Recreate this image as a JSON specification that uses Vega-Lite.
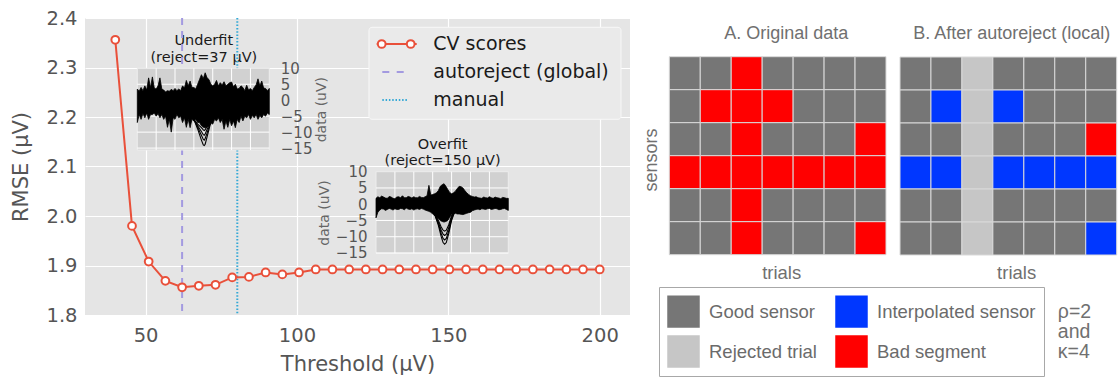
{
  "$schema": "https://vega.github.io/schema/vega-lite/v6.json",
  "width": 545,
  "height": 297,
  "autosize": {"type": "none"},
  "padding": {"left": 85, "top": 18, "right": 490, "bottom": 63},
  "background": "#ffffff",
  "config": {
    "font": "DejaVu Sans",
    "view": {"fill": "#E5E5E5", "stroke": null},
    "axis": {"domain": false, "ticks": false, "grid": false, "labelColor": "#555555", "titleColor": "#555555", "titleFontWeight": "normal"}
  },
  "datasets": {
    "cvScores": [
      {"threshold": 40.0, "rmse": 2.356, "series": "CV scores"},
      {"threshold": 45.52, "rmse": 1.98, "series": "CV scores"},
      {"threshold": 51.03, "rmse": 1.908, "series": "CV scores"},
      {"threshold": 56.55, "rmse": 1.869, "series": "CV scores"},
      {"threshold": 62.07, "rmse": 1.856, "series": "CV scores"},
      {"threshold": 67.59, "rmse": 1.859, "series": "CV scores"},
      {"threshold": 73.1, "rmse": 1.861, "series": "CV scores"},
      {"threshold": 78.62, "rmse": 1.876, "series": "CV scores"},
      {"threshold": 84.14, "rmse": 1.877, "series": "CV scores"},
      {"threshold": 89.66, "rmse": 1.886, "series": "CV scores"},
      {"threshold": 95.17, "rmse": 1.882, "series": "CV scores"},
      {"threshold": 100.69, "rmse": 1.886, "series": "CV scores"},
      {"threshold": 106.21, "rmse": 1.892, "series": "CV scores"},
      {"threshold": 111.72, "rmse": 1.892, "series": "CV scores"},
      {"threshold": 117.24, "rmse": 1.892, "series": "CV scores"},
      {"threshold": 122.76, "rmse": 1.892, "series": "CV scores"},
      {"threshold": 128.28, "rmse": 1.892, "series": "CV scores"},
      {"threshold": 133.79, "rmse": 1.892, "series": "CV scores"},
      {"threshold": 139.31, "rmse": 1.892, "series": "CV scores"},
      {"threshold": 144.83, "rmse": 1.892, "series": "CV scores"},
      {"threshold": 150.34, "rmse": 1.892, "series": "CV scores"},
      {"threshold": 155.86, "rmse": 1.892, "series": "CV scores"},
      {"threshold": 161.38, "rmse": 1.892, "series": "CV scores"},
      {"threshold": 166.9, "rmse": 1.892, "series": "CV scores"},
      {"threshold": 172.41, "rmse": 1.892, "series": "CV scores"},
      {"threshold": 177.93, "rmse": 1.892, "series": "CV scores"},
      {"threshold": 183.45, "rmse": 1.892, "series": "CV scores"},
      {"threshold": 188.97, "rmse": 1.892, "series": "CV scores"},
      {"threshold": 194.48, "rmse": 1.892, "series": "CV scores"},
      {"threshold": 200.0, "rmse": 1.892, "series": "CV scores"}
    ],
    "references": [
      {"threshold": 62.07, "series": "autoreject (global)"},
      {"threshold": 80.3, "series": "manual"}
    ],
    "legendEntries": [
      {"series": "CV scores"},
      {"series": "autoreject (global)"},
      {"series": "manual"}
    ],
    "legendMarkers": [
      {"series": "CV scores", "end": "left"},
      {"series": "CV scores", "end": "right"}
    ],
    "timeGrid": [{"t": -100}, {"t": 0}, {"t": 100}, {"t": 200}, {"t": 300}, {"t": 400}],
    "valueGrid": [{"v": 5}, {"v": 0}, {"v": -5}, {"v": -10}, {"v": -15}],
    "underfitBand": [
      {"t": -200, "lo": -7.0, "hi": 3.5}, {"t": -190, "lo": -4.5, "hi": 2.8}, {"t": -180, "lo": -6.0, "hi": 4.0}, {"t": -170, "lo": -4.2, "hi": 3.0},
      {"t": -160, "lo": -5.5, "hi": 4.5}, {"t": -150, "lo": -4.0, "hi": 3.2}, {"t": -140, "lo": -6.0, "hi": 7.0}, {"t": -130, "lo": -4.5, "hi": 4.0},
      {"t": -120, "lo": -4.5, "hi": 7.3}, {"t": -110, "lo": -4.0, "hi": 3.8}, {"t": -100, "lo": -5.0, "hi": 3.5}, {"t": -90, "lo": -4.2, "hi": 4.5},
      {"t": -80, "lo": -5.5, "hi": 7.0}, {"t": -70, "lo": -4.5, "hi": 3.5}, {"t": -60, "lo": -6.0, "hi": 3.2}, {"t": -50, "lo": -5.0, "hi": 2.6},
      {"t": -40, "lo": -8.5, "hi": 3.0}, {"t": -30, "lo": -6.0, "hi": 2.8}, {"t": -20, "lo": -10.0, "hi": 3.4}, {"t": -10, "lo": -5.5, "hi": 3.0},
      {"t": 0, "lo": -6.0, "hi": 3.7}, {"t": 10, "lo": -4.5, "hi": 3.0}, {"t": 20, "lo": -5.5, "hi": 3.5}, {"t": 30, "lo": -5.0, "hi": 3.0},
      {"t": 40, "lo": -7.0, "hi": 4.5}, {"t": 50, "lo": -5.5, "hi": 3.8}, {"t": 60, "lo": -8.5, "hi": 6.2}, {"t": 70, "lo": -6.0, "hi": 4.5},
      {"t": 80, "lo": -8.6, "hi": 6.0}, {"t": 90, "lo": -6.0, "hi": 4.0}, {"t": 100, "lo": -6.5, "hi": 4.0}, {"t": 110, "lo": -6.0, "hi": 3.5},
      {"t": 120, "lo": -7.0, "hi": 5.0}, {"t": 130, "lo": -7.0, "hi": 6.5}, {"t": 140, "lo": -8.0, "hi": 8.0}, {"t": 150, "lo": -8.5, "hi": 6.8},
      {"t": 160, "lo": -8.6, "hi": 8.6}, {"t": 170, "lo": -8.3, "hi": 7.0}, {"t": 180, "lo": -8.0, "hi": 6.5}, {"t": 190, "lo": -7.0, "hi": 5.0},
      {"t": 200, "lo": -7.5, "hi": 4.5}, {"t": 210, "lo": -6.0, "hi": 5.0}, {"t": 220, "lo": -6.5, "hi": 6.2}, {"t": 230, "lo": -5.5, "hi": 4.5},
      {"t": 240, "lo": -7.0, "hi": 5.5}, {"t": 250, "lo": -6.0, "hi": 4.8}, {"t": 260, "lo": -9.1, "hi": 5.8}, {"t": 270, "lo": -6.5, "hi": 4.5},
      {"t": 280, "lo": -8.5, "hi": 5.0}, {"t": 290, "lo": -6.0, "hi": 5.5}, {"t": 300, "lo": -8.0, "hi": 5.7}, {"t": 310, "lo": -6.5, "hi": 4.2},
      {"t": 320, "lo": -8.6, "hi": 5.0}, {"t": 330, "lo": -6.0, "hi": 3.5}, {"t": 340, "lo": -7.0, "hi": 3.7}, {"t": 350, "lo": -5.0, "hi": 4.5},
      {"t": 360, "lo": -6.5, "hi": 4.0}, {"t": 370, "lo": -5.0, "hi": 3.0}, {"t": 380, "lo": -5.5, "hi": 4.7}, {"t": 390, "lo": -4.5, "hi": 3.2},
      {"t": 400, "lo": -6.0, "hi": 3.7}, {"t": 410, "lo": -4.8, "hi": 3.0}, {"t": 420, "lo": -5.5, "hi": 4.0}, {"t": 430, "lo": -4.5, "hi": 4.8},
      {"t": 440, "lo": -6.0, "hi": 6.7}, {"t": 450, "lo": -4.8, "hi": 4.5}, {"t": 460, "lo": -5.5, "hi": 6.0}, {"t": 470, "lo": -4.5, "hi": 3.8},
      {"t": 480, "lo": -5.0, "hi": 3.7}, {"t": 490, "lo": -4.0, "hi": 3.0}, {"t": 500, "lo": -4.5, "hi": 3.7}
    ],
    "underfitDip": [
      {"trace": 1, "t": 100, "v": -6}, {"trace": 1, "t": 120, "v": -9}, {"trace": 1, "t": 140, "v": -12.5}, {"trace": 1, "t": 150, "v": -14}, {"trace": 1, "t": 155, "v": -14.2}, {"trace": 1, "t": 160, "v": -13.8}, {"trace": 1, "t": 170, "v": -11.5}, {"trace": 1, "t": 185, "v": -8}, {"trace": 1, "t": 200, "v": -6},
      {"trace": 2, "t": 100, "v": -6}, {"trace": 2, "t": 120, "v": -8.5}, {"trace": 2, "t": 140, "v": -11}, {"trace": 2, "t": 150, "v": -12.3}, {"trace": 2, "t": 155, "v": -12.5}, {"trace": 2, "t": 160, "v": -12}, {"trace": 2, "t": 170, "v": -10.3}, {"trace": 2, "t": 185, "v": -7.5}, {"trace": 2, "t": 200, "v": -6},
      {"trace": 3, "t": 100, "v": -6}, {"trace": 3, "t": 120, "v": -8}, {"trace": 3, "t": 140, "v": -9.8}, {"trace": 3, "t": 150, "v": -10.8}, {"trace": 3, "t": 155, "v": -11}, {"trace": 3, "t": 160, "v": -10.6}, {"trace": 3, "t": 170, "v": -9.2}, {"trace": 3, "t": 185, "v": -7}, {"trace": 3, "t": 200, "v": -6},
      {"trace": 4, "t": 100, "v": -6}, {"trace": 4, "t": 120, "v": -7.5}, {"trace": 4, "t": 140, "v": -8.6}, {"trace": 4, "t": 150, "v": -9.3}, {"trace": 4, "t": 155, "v": -9.5}, {"trace": 4, "t": 160, "v": -9.2}, {"trace": 4, "t": 170, "v": -8.2}, {"trace": 4, "t": 185, "v": -6.5}, {"trace": 4, "t": 200, "v": -6}
    ],
    "overfitBand": [
      {"t": -200, "lo": -4.2, "hi": 1.8}, {"t": -190, "lo": -2.5, "hi": 2.3}, {"t": -180, "lo": -1.8, "hi": 2.0}, {"t": -170, "lo": -1.4, "hi": 2.5},
      {"t": -160, "lo": -1.5, "hi": 2.2}, {"t": -150, "lo": -1.9, "hi": 1.9}, {"t": -140, "lo": -1.6, "hi": 1.8}, {"t": -130, "lo": -1.3, "hi": 2.4},
      {"t": -120, "lo": -1.5, "hi": 2.2}, {"t": -110, "lo": -1.8, "hi": 1.8}, {"t": -100, "lo": -1.4, "hi": 1.7}, {"t": -90, "lo": -1.6, "hi": 2.2},
      {"t": -80, "lo": -1.6, "hi": 2.3}, {"t": -70, "lo": -1.3, "hi": 2.0}, {"t": -60, "lo": -1.4, "hi": 2.6}, {"t": -50, "lo": -1.7, "hi": 2.0},
      {"t": -40, "lo": -1.2, "hi": 2.0}, {"t": -30, "lo": -1.5, "hi": 2.4}, {"t": -20, "lo": -1.6, "hi": 2.2}, {"t": -10, "lo": -1.4, "hi": 1.9},
      {"t": 0, "lo": -1.8, "hi": 2.3}, {"t": 10, "lo": -1.5, "hi": 2.0}, {"t": 20, "lo": -1.4, "hi": 2.0}, {"t": 30, "lo": -1.6, "hi": 2.4},
      {"t": 40, "lo": -1.3, "hi": 2.1}, {"t": 50, "lo": -1.5, "hi": 2.0}, {"t": 60, "lo": -1.8, "hi": 2.3}, {"t": 70, "lo": -2.0, "hi": 2.6},
      {"t": 80, "lo": -2.2, "hi": 5.8}, {"t": 90, "lo": -2.5, "hi": 2.8}, {"t": 100, "lo": -3.0, "hi": 3.0}, {"t": 110, "lo": -3.5, "hi": 3.2},
      {"t": 120, "lo": -4.0, "hi": 3.5}, {"t": 130, "lo": -4.5, "hi": 4.2}, {"t": 140, "lo": -5.0, "hi": 5.5}, {"t": 150, "lo": -5.3, "hi": 6.0},
      {"t": 160, "lo": -5.5, "hi": 6.3}, {"t": 170, "lo": -5.3, "hi": 5.5}, {"t": 180, "lo": -5.0, "hi": 4.5}, {"t": 190, "lo": -4.0, "hi": 3.6},
      {"t": 200, "lo": -3.2, "hi": 3.2}, {"t": 210, "lo": -3.0, "hi": 3.5}, {"t": 220, "lo": -2.8, "hi": 4.0}, {"t": 230, "lo": -3.0, "hi": 4.8},
      {"t": 240, "lo": -3.0, "hi": 5.5}, {"t": 250, "lo": -3.1, "hi": 5.4}, {"t": 260, "lo": -3.2, "hi": 5.0}, {"t": 270, "lo": -3.0, "hi": 4.2},
      {"t": 280, "lo": -2.8, "hi": 3.5}, {"t": 290, "lo": -2.6, "hi": 3.0}, {"t": 300, "lo": -2.5, "hi": 2.6}, {"t": 310, "lo": -2.0, "hi": 2.4},
      {"t": 320, "lo": -1.8, "hi": 2.2}, {"t": 330, "lo": -1.6, "hi": 2.3}, {"t": 340, "lo": -1.5, "hi": 2.0}, {"t": 350, "lo": -1.7, "hi": 1.9},
      {"t": 360, "lo": -1.4, "hi": 1.8}, {"t": 370, "lo": -1.5, "hi": 2.2}, {"t": 380, "lo": -1.6, "hi": 2.0}, {"t": 390, "lo": -1.4, "hi": 1.9},
      {"t": 400, "lo": -1.3, "hi": 2.3}, {"t": 410, "lo": -1.6, "hi": 2.0}, {"t": 420, "lo": -1.5, "hi": 1.8}, {"t": 430, "lo": -1.3, "hi": 2.2},
      {"t": 440, "lo": -1.4, "hi": 2.0}, {"t": 450, "lo": -1.7, "hi": 1.9}, {"t": 460, "lo": -1.6, "hi": 1.7}, {"t": 470, "lo": -1.4, "hi": 2.1},
      {"t": 480, "lo": -1.3, "hi": 2.0}, {"t": 490, "lo": -1.6, "hi": 1.8}, {"t": 500, "lo": -1.9, "hi": 1.8}
    ],
    "overfitDip": [
      {"trace": 1, "t": 110, "v": -3}, {"trace": 1, "t": 130, "v": -6.5}, {"trace": 1, "t": 145, "v": -10}, {"trace": 1, "t": 155, "v": -11.8}, {"trace": 1, "t": 163, "v": -12.3}, {"trace": 1, "t": 172, "v": -11.8}, {"trace": 1, "t": 185, "v": -9}, {"trace": 1, "t": 200, "v": -5}, {"trace": 1, "t": 215, "v": -2.5},
      {"trace": 2, "t": 110, "v": -3}, {"trace": 2, "t": 130, "v": -6}, {"trace": 2, "t": 145, "v": -9}, {"trace": 2, "t": 155, "v": -10.5}, {"trace": 2, "t": 163, "v": -11}, {"trace": 2, "t": 172, "v": -10.5}, {"trace": 2, "t": 185, "v": -8.2}, {"trace": 2, "t": 200, "v": -4.5}, {"trace": 2, "t": 215, "v": -2.5},
      {"trace": 3, "t": 110, "v": -3}, {"trace": 3, "t": 130, "v": -5.5}, {"trace": 3, "t": 145, "v": -8}, {"trace": 3, "t": 155, "v": -9.2}, {"trace": 3, "t": 163, "v": -9.6}, {"trace": 3, "t": 172, "v": -9.2}, {"trace": 3, "t": 185, "v": -7.2}, {"trace": 3, "t": 200, "v": -4}, {"trace": 3, "t": 215, "v": -2.5},
      {"trace": 4, "t": 110, "v": -3}, {"trace": 4, "t": 130, "v": -5}, {"trace": 4, "t": 145, "v": -7}, {"trace": 4, "t": 155, "v": -8}, {"trace": 4, "t": 163, "v": -8.3}, {"trace": 4, "t": 172, "v": -8}, {"trace": 4, "t": 185, "v": -6.3}, {"trace": 4, "t": 200, "v": -3.5}, {"trace": 4, "t": 215, "v": -2.5}
    ],
    "cells": [
      {"panel": "A", "sensor": 1, "trial": 1, "status": "Good sensor"}, {"panel": "A", "sensor": 1, "trial": 2, "status": "Good sensor"}, {"panel": "A", "sensor": 1, "trial": 3, "status": "Bad segment"}, {"panel": "A", "sensor": 1, "trial": 4, "status": "Good sensor"}, {"panel": "A", "sensor": 1, "trial": 5, "status": "Good sensor"}, {"panel": "A", "sensor": 1, "trial": 6, "status": "Good sensor"}, {"panel": "A", "sensor": 1, "trial": 7, "status": "Good sensor"},
      {"panel": "A", "sensor": 2, "trial": 1, "status": "Good sensor"}, {"panel": "A", "sensor": 2, "trial": 2, "status": "Bad segment"}, {"panel": "A", "sensor": 2, "trial": 3, "status": "Bad segment"}, {"panel": "A", "sensor": 2, "trial": 4, "status": "Bad segment"}, {"panel": "A", "sensor": 2, "trial": 5, "status": "Good sensor"}, {"panel": "A", "sensor": 2, "trial": 6, "status": "Good sensor"}, {"panel": "A", "sensor": 2, "trial": 7, "status": "Good sensor"},
      {"panel": "A", "sensor": 3, "trial": 1, "status": "Good sensor"}, {"panel": "A", "sensor": 3, "trial": 2, "status": "Good sensor"}, {"panel": "A", "sensor": 3, "trial": 3, "status": "Bad segment"}, {"panel": "A", "sensor": 3, "trial": 4, "status": "Good sensor"}, {"panel": "A", "sensor": 3, "trial": 5, "status": "Good sensor"}, {"panel": "A", "sensor": 3, "trial": 6, "status": "Good sensor"}, {"panel": "A", "sensor": 3, "trial": 7, "status": "Bad segment"},
      {"panel": "A", "sensor": 4, "trial": 1, "status": "Bad segment"}, {"panel": "A", "sensor": 4, "trial": 2, "status": "Bad segment"}, {"panel": "A", "sensor": 4, "trial": 3, "status": "Bad segment"}, {"panel": "A", "sensor": 4, "trial": 4, "status": "Bad segment"}, {"panel": "A", "sensor": 4, "trial": 5, "status": "Bad segment"}, {"panel": "A", "sensor": 4, "trial": 6, "status": "Bad segment"}, {"panel": "A", "sensor": 4, "trial": 7, "status": "Bad segment"},
      {"panel": "A", "sensor": 5, "trial": 1, "status": "Good sensor"}, {"panel": "A", "sensor": 5, "trial": 2, "status": "Good sensor"}, {"panel": "A", "sensor": 5, "trial": 3, "status": "Bad segment"}, {"panel": "A", "sensor": 5, "trial": 4, "status": "Good sensor"}, {"panel": "A", "sensor": 5, "trial": 5, "status": "Good sensor"}, {"panel": "A", "sensor": 5, "trial": 6, "status": "Good sensor"}, {"panel": "A", "sensor": 5, "trial": 7, "status": "Good sensor"},
      {"panel": "A", "sensor": 6, "trial": 1, "status": "Good sensor"}, {"panel": "A", "sensor": 6, "trial": 2, "status": "Good sensor"}, {"panel": "A", "sensor": 6, "trial": 3, "status": "Bad segment"}, {"panel": "A", "sensor": 6, "trial": 4, "status": "Good sensor"}, {"panel": "A", "sensor": 6, "trial": 5, "status": "Good sensor"}, {"panel": "A", "sensor": 6, "trial": 6, "status": "Good sensor"}, {"panel": "A", "sensor": 6, "trial": 7, "status": "Bad segment"},
      {"panel": "B", "sensor": 1, "trial": 1, "status": "Good sensor"}, {"panel": "B", "sensor": 1, "trial": 2, "status": "Good sensor"}, {"panel": "B", "sensor": 1, "trial": 3, "status": "Rejected trial"}, {"panel": "B", "sensor": 1, "trial": 4, "status": "Good sensor"}, {"panel": "B", "sensor": 1, "trial": 5, "status": "Good sensor"}, {"panel": "B", "sensor": 1, "trial": 6, "status": "Good sensor"}, {"panel": "B", "sensor": 1, "trial": 7, "status": "Good sensor"},
      {"panel": "B", "sensor": 2, "trial": 1, "status": "Good sensor"}, {"panel": "B", "sensor": 2, "trial": 2, "status": "Interpolated sensor"}, {"panel": "B", "sensor": 2, "trial": 3, "status": "Rejected trial"}, {"panel": "B", "sensor": 2, "trial": 4, "status": "Interpolated sensor"}, {"panel": "B", "sensor": 2, "trial": 5, "status": "Good sensor"}, {"panel": "B", "sensor": 2, "trial": 6, "status": "Good sensor"}, {"panel": "B", "sensor": 2, "trial": 7, "status": "Good sensor"},
      {"panel": "B", "sensor": 3, "trial": 1, "status": "Good sensor"}, {"panel": "B", "sensor": 3, "trial": 2, "status": "Good sensor"}, {"panel": "B", "sensor": 3, "trial": 3, "status": "Rejected trial"}, {"panel": "B", "sensor": 3, "trial": 4, "status": "Good sensor"}, {"panel": "B", "sensor": 3, "trial": 5, "status": "Good sensor"}, {"panel": "B", "sensor": 3, "trial": 6, "status": "Good sensor"}, {"panel": "B", "sensor": 3, "trial": 7, "status": "Bad segment"},
      {"panel": "B", "sensor": 4, "trial": 1, "status": "Interpolated sensor"}, {"panel": "B", "sensor": 4, "trial": 2, "status": "Interpolated sensor"}, {"panel": "B", "sensor": 4, "trial": 3, "status": "Rejected trial"}, {"panel": "B", "sensor": 4, "trial": 4, "status": "Interpolated sensor"}, {"panel": "B", "sensor": 4, "trial": 5, "status": "Interpolated sensor"}, {"panel": "B", "sensor": 4, "trial": 6, "status": "Interpolated sensor"}, {"panel": "B", "sensor": 4, "trial": 7, "status": "Interpolated sensor"},
      {"panel": "B", "sensor": 5, "trial": 1, "status": "Good sensor"}, {"panel": "B", "sensor": 5, "trial": 2, "status": "Good sensor"}, {"panel": "B", "sensor": 5, "trial": 3, "status": "Rejected trial"}, {"panel": "B", "sensor": 5, "trial": 4, "status": "Good sensor"}, {"panel": "B", "sensor": 5, "trial": 5, "status": "Good sensor"}, {"panel": "B", "sensor": 5, "trial": 6, "status": "Good sensor"}, {"panel": "B", "sensor": 5, "trial": 7, "status": "Good sensor"},
      {"panel": "B", "sensor": 6, "trial": 1, "status": "Good sensor"}, {"panel": "B", "sensor": 6, "trial": 2, "status": "Good sensor"}, {"panel": "B", "sensor": 6, "trial": 3, "status": "Rejected trial"}, {"panel": "B", "sensor": 6, "trial": 4, "status": "Good sensor"}, {"panel": "B", "sensor": 6, "trial": 5, "status": "Good sensor"}, {"panel": "B", "sensor": 6, "trial": 6, "status": "Good sensor"}, {"panel": "B", "sensor": 6, "trial": 7, "status": "Interpolated sensor"}
    ]
  },
  "resolve": {"scale": {"x": "independent", "y": "independent"}},
  "layer": [
    {
      "data": {"name": "references"},
      "mark": {"type": "rule", "strokeWidth": 2},
      "encoding": {
        "x": {"field": "threshold", "type": "quantitative", "scale": {"domain": [30, 210], "nice": false, "zero": false}, "axis": null},
        "stroke": {"field": "series", "type": "nominal", "scale": {"domain": ["CV scores", "autoreject (global)", "manual"], "range": ["#E9503A", "#A39AE0", "#35A9D6"]}, "legend": null},
        "strokeDash": {"field": "series", "type": "nominal", "scale": {"domain": ["CV scores", "autoreject (global)", "manual"], "range": [[1, 0], [7, 6], [1.5, 1.8]]}, "legend": null}
      }
    },
    {
      "data": {"name": "cvScores"},
      "mark": {"type": "line", "strokeWidth": 2},
      "encoding": {
        "x": {"field": "threshold", "type": "quantitative", "scale": {"domain": [30, 210], "nice": false, "zero": false},
          "axis": {"orient": "bottom", "values": [50, 100, 150, 200], "grid": true, "gridColor": "#ffffff", "gridWidth": 1.2, "labelFontSize": 19.5, "labelPadding": 11, "title": "Threshold (μV)", "titleFontSize": 21, "titlePadding": 9}},
        "y": {"field": "rmse", "type": "quantitative", "scale": {"domain": [1.8, 2.4], "nice": false, "zero": false},
          "axis": {"orient": "left", "values": [1.8, 1.9, 2.0, 2.1, 2.2, 2.3, 2.4], "format": ".1f", "grid": true, "gridColor": "#ffffff", "gridWidth": 1.2, "labelFontSize": 19.5, "labelPadding": 8, "title": "RMSE (μV)", "titleFontSize": 21, "titlePadding": 14.5}},
        "stroke": {"field": "series", "type": "nominal", "scale": {"domain": ["CV scores", "autoreject (global)", "manual"], "range": ["#E9503A", "#A39AE0", "#35A9D6"]}, "legend": null}
      }
    },
    {
      "data": {"name": "cvScores"},
      "mark": {"type": "point", "shape": "circle", "filled": false, "fill": "#ffffff", "size": 60, "strokeWidth": 2, "opacity": 1},
      "encoding": {
        "x": {"field": "threshold", "type": "quantitative", "scale": {"domain": [30, 210], "nice": false, "zero": false}, "axis": null},
        "y": {"field": "rmse", "type": "quantitative", "scale": {"domain": [1.8, 2.4], "nice": false, "zero": false}, "axis": null},
        "stroke": {"field": "series", "type": "nominal", "scale": {"domain": ["CV scores", "autoreject (global)", "manual"], "range": ["#E9503A", "#A39AE0", "#35A9D6"]}, "legend": null}
      }
    },
    {
      "data": {"values": [{"box": "series legend"}]},
      "mark": {"type": "rect", "fill": "#EAEAEA", "stroke": "#F8F8F8", "strokeWidth": 1, "cornerRadius": 3},
      "encoding": {
        "x": {"datum": 0, "type": "quantitative", "scale": {"domain": [0, 100], "range": [284, 536], "nice": false, "zero": false}, "axis": null},
        "x2": {"datum": 100},
        "y": {"datum": 0, "type": "quantitative", "scale": {"domain": [0, 100], "range": [9.3, 101.3], "nice": false, "zero": false}, "axis": null},
        "y2": {"datum": 100}
      }
    },
    {
      "data": {"name": "legendEntries"},
      "transform": [{"filter": "datum.series === 'CV scores'"}],
      "mark": {"type": "rule", "strokeWidth": 2},
      "encoding": {
        "x": {"datum": 3.06, "type": "quantitative", "scale": {"domain": [0, 100], "range": [284, 536], "nice": false, "zero": false}, "axis": null},
        "x2": {"datum": 18.93},
        "y": {"field": "series", "type": "nominal", "scale": {"type": "point", "domain": ["CV scores", "autoreject (global)", "manual"], "range": [26, 82], "padding": 0}, "axis": null},
        "stroke": {"field": "series", "type": "nominal", "scale": {"domain": ["CV scores", "autoreject (global)", "manual"], "range": ["#E9503A", "#A39AE0", "#35A9D6"]}, "legend": null}
      }
    },
    {
      "data": {"name": "legendEntries"},
      "transform": [{"filter": "datum.series === 'autoreject (global)'"}],
      "mark": {"type": "rule", "strokeWidth": 2, "strokeDash": [7, 7.4]},
      "encoding": {
        "x": {"datum": 5.28, "type": "quantitative", "scale": {"domain": [0, 100], "range": [284, 536], "nice": false, "zero": false}, "axis": null},
        "x2": {"datum": 13.77},
        "y": {"field": "series", "type": "nominal", "scale": {"type": "point", "domain": ["CV scores", "autoreject (global)", "manual"], "range": [26, 82], "padding": 0}, "axis": null},
        "stroke": {"field": "series", "type": "nominal", "scale": {"domain": ["CV scores", "autoreject (global)", "manual"], "range": ["#E9503A", "#A39AE0", "#35A9D6"]}, "legend": null}
      }
    },
    {
      "data": {"name": "legendEntries"},
      "transform": [{"filter": "datum.series === 'manual'"}],
      "mark": {"type": "rule", "strokeWidth": 2, "strokeDash": [1.5, 1.8]},
      "encoding": {
        "x": {"datum": 5.28, "type": "quantitative", "scale": {"domain": [0, 100], "range": [284, 536], "nice": false, "zero": false}, "axis": null},
        "x2": {"datum": 15.6},
        "y": {"field": "series", "type": "nominal", "scale": {"type": "point", "domain": ["CV scores", "autoreject (global)", "manual"], "range": [26, 82], "padding": 0}, "axis": null},
        "stroke": {"field": "series", "type": "nominal", "scale": {"domain": ["CV scores", "autoreject (global)", "manual"], "range": ["#E9503A", "#A39AE0", "#35A9D6"]}, "legend": null}
      }
    },
    {
      "data": {"name": "legendMarkers"},
      "mark": {"type": "point", "shape": "circle", "filled": false, "fill": "#ffffff", "size": 60, "strokeWidth": 2, "opacity": 1},
      "encoding": {
        "x": {"field": "end", "type": "nominal", "scale": {"type": "point", "domain": ["left", "right"], "range": [296.7, 325.7], "padding": 0}, "axis": null},
        "y": {"field": "series", "type": "nominal", "scale": {"type": "point", "domain": ["CV scores", "autoreject (global)", "manual"], "range": [26, 82], "padding": 0}, "axis": null},
        "stroke": {"field": "series", "type": "nominal", "scale": {"domain": ["CV scores", "autoreject (global)", "manual"], "range": ["#E9503A", "#A39AE0", "#35A9D6"]}, "legend": null}
      }
    },
    {
      "data": {"name": "legendEntries"},
      "mark": {"type": "text", "font": "DejaVu Sans", "fontSize": 19, "color": "#1a1a1a", "align": "left", "baseline": "middle"},
      "encoding": {
        "x": {"datum": 25.5, "type": "quantitative", "scale": {"domain": [0, 100], "range": [284, 536], "nice": false, "zero": false}, "axis": null},
        "y": {"field": "series", "type": "nominal", "scale": {"type": "point", "domain": ["CV scores", "autoreject (global)", "manual"], "range": [26, 82], "padding": 0}, "axis": null},
        "text": {"field": "series"}
      }
    },
    {
      "data": {"values": [{"inset": "Underfit"}]},
      "mark": {"type": "rect", "fill": "#D1D1D1", "stroke": "#EDEDED", "strokeWidth": 1},
      "encoding": {
        "x": {"datum": -200, "type": "quantitative", "scale": {"domain": [-200, 500], "range": [52.3, 184.3], "nice": false, "zero": false}, "axis": null},
        "x2": {"datum": 500},
        "y": {"datum": -15.6, "type": "quantitative", "scale": {"domain": [-15.6, 10], "range": [132, 50.3], "nice": false, "zero": false}, "axis": null},
        "y2": {"datum": 10}
      }
    },
    {
      "data": {"name": "timeGrid"},
      "mark": {"type": "rule", "stroke": "#ffffff", "strokeWidth": 1},
      "encoding": {
        "x": {"field": "t", "type": "quantitative", "scale": {"domain": [-200, 500], "range": [52.3, 184.3], "nice": false, "zero": false}, "axis": null},
        "y": {"datum": -15.6, "type": "quantitative", "scale": {"domain": [-15.6, 10], "range": [132, 50.3], "nice": false, "zero": false}, "axis": null},
        "y2": {"datum": 10}
      }
    },
    {
      "data": {"name": "valueGrid"},
      "mark": {"type": "rule", "stroke": "#ffffff", "strokeWidth": 1},
      "encoding": {
        "y": {"field": "v", "type": "quantitative", "scale": {"domain": [-15.6, 10], "range": [132, 50.3], "nice": false, "zero": false}, "axis": null},
        "x": {"datum": -200, "type": "quantitative", "scale": {"domain": [-200, 500], "range": [52.3, 184.3], "nice": false, "zero": false}, "axis": null},
        "x2": {"datum": 500}
      }
    },
    {
      "data": {"name": "underfitBand"},
      "mark": {"type": "area", "fill": "#000000", "stroke": "#000000", "strokeWidth": 0.8},
      "encoding": {
        "x": {"field": "t", "type": "quantitative", "scale": {"domain": [-200, 500], "range": [52.3, 184.3], "nice": false, "zero": false},
          "axis": {"orient": "top", "offset": -50.3, "labels": false, "title": ["Underfit", "(reject=37 μV)"], "titleFontSize": 14.5, "titleColor": "#1a1a1a", "titlePadding": 4, "titleLineHeight": 16.7}},
        "y": {"field": "lo", "type": "quantitative", "scale": {"domain": [-15.6, 10], "range": [132, 50.3], "nice": false, "zero": false},
          "axis": {"orient": "right", "offset": -360.7, "values": [10, 5, 0, -5, -10, -15], "labelFontSize": 15, "labelPadding": 11, "title": "data (uV)", "titleFontSize": 14, "titleColor": "#666666", "titleAngle": 270, "titleBaseline": "top", "titlePadding": 3}},
        "y2": {"field": "hi"}
      }
    },
    {
      "data": {"name": "underfitDip"},
      "mark": {"type": "line", "stroke": "#000000", "strokeWidth": 1.1},
      "encoding": {
        "x": {"field": "t", "type": "quantitative", "scale": {"domain": [-200, 500], "range": [52.3, 184.3], "nice": false, "zero": false}, "axis": null},
        "y": {"field": "v", "type": "quantitative", "scale": {"domain": [-15.6, 10], "range": [132, 50.3], "nice": false, "zero": false}, "axis": null},
        "detail": {"field": "trace", "type": "nominal"}
      }
    },
    {
      "data": {"values": [{"inset": "Overfit"}]},
      "mark": {"type": "rect", "fill": "#D1D1D1", "stroke": "#EDEDED", "strokeWidth": 1},
      "encoding": {
        "x": {"datum": -200, "type": "quantitative", "scale": {"domain": [-200, 500], "range": [291, 423.3], "nice": false, "zero": false}, "axis": null},
        "x2": {"datum": 500},
        "y": {"datum": -15.1, "type": "quantitative", "scale": {"domain": [-15.1, 10], "range": [235.3, 153.7], "nice": false, "zero": false}, "axis": null},
        "y2": {"datum": 10}
      }
    },
    {
      "data": {"name": "timeGrid"},
      "mark": {"type": "rule", "stroke": "#ffffff", "strokeWidth": 1},
      "encoding": {
        "x": {"field": "t", "type": "quantitative", "scale": {"domain": [-200, 500], "range": [291, 423.3], "nice": false, "zero": false}, "axis": null},
        "y": {"datum": -15.1, "type": "quantitative", "scale": {"domain": [-15.1, 10], "range": [235.3, 153.7], "nice": false, "zero": false}, "axis": null},
        "y2": {"datum": 10}
      }
    },
    {
      "data": {"name": "valueGrid"},
      "mark": {"type": "rule", "stroke": "#ffffff", "strokeWidth": 1},
      "encoding": {
        "y": {"field": "v", "type": "quantitative", "scale": {"domain": [-15.1, 10], "range": [235.3, 153.7], "nice": false, "zero": false}, "axis": null},
        "x": {"datum": -200, "type": "quantitative", "scale": {"domain": [-200, 500], "range": [291, 423.3], "nice": false, "zero": false}, "axis": null},
        "x2": {"datum": 500}
      }
    },
    {
      "data": {"name": "overfitBand"},
      "mark": {"type": "area", "fill": "#000000", "stroke": "#000000", "strokeWidth": 0.8},
      "encoding": {
        "x": {"field": "t", "type": "quantitative", "scale": {"domain": [-200, 500], "range": [291, 423.3], "nice": false, "zero": false},
          "axis": {"orient": "top", "offset": -153.7, "labels": false, "title": ["Overfit", "(reject=150 μV)"], "titleFontSize": 14.5, "titleColor": "#1a1a1a", "titlePadding": 4, "titleLineHeight": 16.7}},
        "y": {"field": "lo", "type": "quantitative", "scale": {"domain": [-15.1, 10], "range": [235.3, 153.7], "nice": false, "zero": false},
          "axis": {"orient": "left", "offset": -291, "values": [10, 5, 0, -5, -10, -15], "labelFontSize": 15, "labelPadding": 9, "title": "data (uV)", "titleFontSize": 14, "titleColor": "#666666", "titlePadding": 4}},
        "y2": {"field": "hi"}
      }
    },
    {
      "data": {"name": "overfitDip"},
      "mark": {"type": "line", "stroke": "#000000", "strokeWidth": 1.1},
      "encoding": {
        "x": {"field": "t", "type": "quantitative", "scale": {"domain": [-200, 500], "range": [291, 423.3], "nice": false, "zero": false}, "axis": null},
        "y": {"field": "v", "type": "quantitative", "scale": {"domain": [-15.1, 10], "range": [235.3, 153.7], "nice": false, "zero": false}, "axis": null},
        "detail": {"field": "trace", "type": "nominal"}
      }
    },
    {
      "data": {"name": "cells"},
      "transform": [{"filter": "datum.panel === 'A'"}],
      "mark": {"type": "rect", "stroke": "#D9D9D9", "strokeWidth": 1},
      "encoding": {
        "x": {"field": "trial", "type": "ordinal", "scale": {"range": [584.3, 801], "paddingInner": 0, "paddingOuter": 0}, "axis": null},
        "y": {"field": "sensor", "type": "ordinal", "scale": {"range": [38.7, 236.7], "paddingInner": 0, "paddingOuter": 0}, "axis": null},
        "color": {"field": "status", "type": "nominal",
          "scale": {"domain": ["Good sensor", "Rejected trial", "Interpolated sensor", "Bad segment"], "range": ["#767676", "#C6C6C6", "#0037FF", "#FF0000"]},
          "legend": {
            "title": null, "orient": "none", "legendX": 574, "legendY": 269, "columns": 2,
            "padding": 8, "fillColor": "#ffffff", "strokeColor": "#A8A8A8",
            "symbolType": "square", "symbolSize": 1056, "symbolStrokeWidth": 0, "symbolOpacity": 1,
            "labelFont": "Liberation Sans", "labelFontSize": 18.5, "labelColor": "#6B6B6B", "labelOffset": 9, "labelLimit": 400,
            "rowPadding": 7, "columnPadding": 18
          }}
      }
    },
    {
      "data": {"name": "cells"},
      "transform": [{"filter": "datum.panel === 'B'"}],
      "mark": {"type": "rect", "stroke": "#D9D9D9", "strokeWidth": 1},
      "encoding": {
        "x": {"field": "trial", "type": "ordinal", "scale": {"range": [815, 1031.7], "paddingInner": 0, "paddingOuter": 0}, "axis": null},
        "y": {"field": "sensor", "type": "ordinal", "scale": {"range": [39, 237], "paddingInner": 0, "paddingOuter": 0}, "axis": null},
        "color": {"field": "status", "type": "nominal",
          "scale": {"domain": ["Good sensor", "Rejected trial", "Interpolated sensor", "Bad segment"], "range": ["#767676", "#C6C6C6", "#0037FF", "#FF0000"]},
          "legend": null}
      }
    },
    {
      "data": {"values": [{"note": "A. Original data"}]},
      "mark": {"type": "text", "font": "Liberation Sans", "fontSize": 18, "color": "#707070", "align": "center", "baseline": "middle"},
      "encoding": {
        "x": {"datum": 3.78, "type": "quantitative", "scale": {"domain": [0, 7], "range": [584.3, 801], "nice": false, "zero": false}, "axis": null},
        "y": {"datum": -0.69, "type": "quantitative", "scale": {"domain": [0, 6], "range": [38.7, 236.7], "nice": false, "zero": false}, "axis": null},
        "text": {"field": "note"}
      }
    },
    {
      "data": {"values": [{"note": "B. After autoreject (local)"}]},
      "mark": {"type": "text", "font": "Liberation Sans", "fontSize": 18, "color": "#707070", "align": "center", "baseline": "middle"},
      "encoding": {
        "x": {"datum": 11.06, "type": "quantitative", "scale": {"domain": [0, 7], "range": [584.3, 801], "nice": false, "zero": false}, "axis": null},
        "y": {"datum": -0.69, "type": "quantitative", "scale": {"domain": [0, 6], "range": [38.7, 236.7], "nice": false, "zero": false}, "axis": null},
        "text": {"field": "note"}
      }
    },
    {
      "data": {"values": [{"note": "trials"}]},
      "mark": {"type": "text", "font": "Liberation Sans", "fontSize": 18.5, "color": "#707070", "align": "center", "baseline": "middle"},
      "encoding": {
        "x": {"datum": 3.63, "type": "quantitative", "scale": {"domain": [0, 7], "range": [584.3, 801], "nice": false, "zero": false}, "axis": null},
        "y": {"datum": 6.56, "type": "quantitative", "scale": {"domain": [0, 6], "range": [38.7, 236.7], "nice": false, "zero": false}, "axis": null},
        "text": {"field": "note"}
      }
    },
    {
      "data": {"values": [{"note": "trials"}]},
      "mark": {"type": "text", "font": "Liberation Sans", "fontSize": 18.5, "color": "#707070", "align": "center", "baseline": "middle"},
      "encoding": {
        "x": {"datum": 11.22, "type": "quantitative", "scale": {"domain": [0, 7], "range": [584.3, 801], "nice": false, "zero": false}, "axis": null},
        "y": {"datum": 6.55, "type": "quantitative", "scale": {"domain": [0, 6], "range": [38.7, 236.7], "nice": false, "zero": false}, "axis": null},
        "text": {"field": "note"}
      }
    },
    {
      "data": {"values": [{"note": "sensors"}]},
      "mark": {"type": "text", "font": "Liberation Sans", "fontSize": 18, "color": "#707070", "align": "center", "baseline": "middle", "angle": 270},
      "encoding": {
        "x": {"datum": -0.565, "type": "quantitative", "scale": {"domain": [0, 7], "range": [584.3, 801], "nice": false, "zero": false}, "axis": null},
        "y": {"datum": 3.13, "type": "quantitative", "scale": {"domain": [0, 6], "range": [38.7, 236.7], "nice": false, "zero": false}, "axis": null},
        "text": {"field": "note"}
      }
    },
    {
      "data": {"values": [{"note": ["ρ=2", "and", "κ=4"]}]},
      "mark": {"type": "text", "font": "Liberation Sans", "fontSize": 19.5, "lineHeight": 20, "color": "#707070", "align": "left", "baseline": "middle"},
      "encoding": {
        "x": {"datum": 12.55, "type": "quantitative", "scale": {"domain": [0, 7], "range": [584.3, 801], "nice": false, "zero": false}, "axis": null},
        "y": {"datum": 7.74, "type": "quantitative", "scale": {"domain": [0, 6], "range": [38.7, 236.7], "nice": false, "zero": false}, "axis": null},
        "text": {"field": "note"}
      }
    }
  ]
}
